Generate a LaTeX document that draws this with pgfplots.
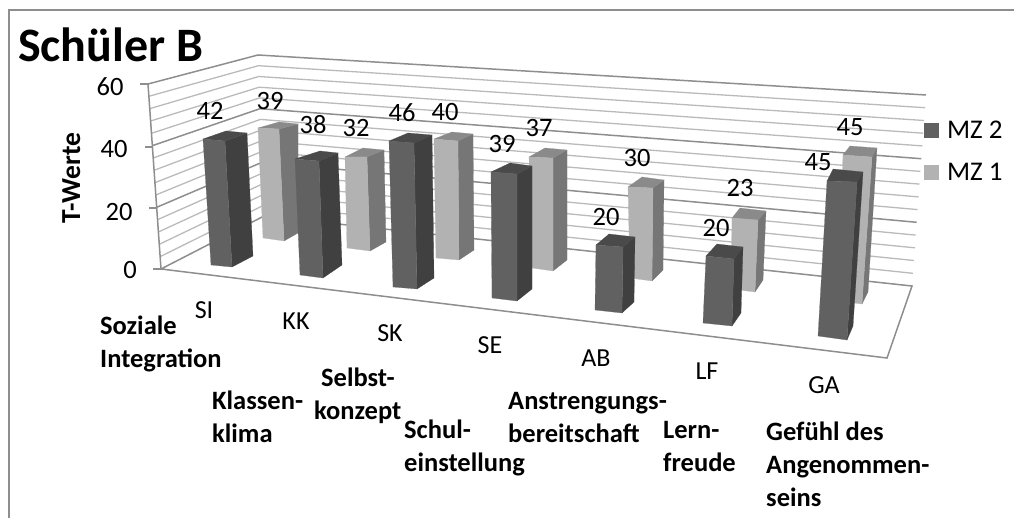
\documentclass[border=0pt]{standalone}
\usepackage{pgfplots}
\pgfplotsset{compat=1.18}
\usepackage{pgfplotstable}
\usepackage{fontspec}
\setmainfont{Carlito}
\definecolor{majorc}{HTML}{8E8E8E}
\definecolor{minorc}{HTML}{BABABA}
\definecolor{dfront}{HTML}{616161}
\definecolor{dside}{HTML}{404040}
\definecolor{dtop}{HTML}{4A4A4A}
\definecolor{lfront}{HTML}{B2B2B2}
\definecolor{lside}{HTML}{767676}
\definecolor{ltop}{HTML}{8A8A8A}
\newcommand{\poly}[2]{\addplot[forget plot, fill=#1, draw=#1, line width=0.2pt] coordinates {#2} -- cycle;}
% #1 front-left top, #2 front-right top, #3 back-right top, #4 back-left top,
% #5 front-right bottom, #6 front-left bottom, #7 back-right bottom
\newcommand{\darkbar}[7]{%
  \poly{dside}{(#2)(#3)(#7)(#5)}
  \poly{dtop}{(#1)(#2)(#3)(#4)}
  \poly{dfront}{(#1)(#2)(#5)(#6)}}
\newcommand{\lightbar}[7]{%
  \poly{lside}{(#2)(#3)(#7)(#5)}
  \poly{ltop}{(#1)(#2)(#3)(#4)}
  \poly{lfront}{(#1)(#2)(#5)(#6)}}
\newcommand{\gl}[1]{\addplot[forget plot, minorc, line width=1.3pt] coordinates {#1};}
\newcommand{\gm}[1]{\addplot[forget plot, majorc, line width=1.5pt] coordinates {#1};}
\pgfplotstableread{
x y val
210 111 42
313 125 38
402 113 46
502 144 39
606 217 20
716 228 20
818 162 45
}\mztwo
\pgfplotstableread{
x y val
270 101 39
356 128 32
445 112 40
539 128 37
637 158 30
740 188 23
850 127 45
}\mzone
\begin{document}
\begin{tikzpicture}
\path[use as bounding box] (0,0) rectangle (1014pt,518pt);
\begin{axis}[
  scale only axis, width=1014pt, height=518pt,
  xmin=0, xmax=1014, ymin=0, ymax=518, y dir=reverse,
  hide axis, clip=false,
  /pgf/number format/assume math mode=true,
  legend style={at={(924/1014,1-119/518)}, anchor=north west, draw=none, fill=none,
    font=\fontsize{27}{32}\selectfont, inner sep=0pt, outer sep=0pt,
    row sep=19pt, /tikz/every odd column/.style={column sep=6pt}},
  legend cell align=left,
  legend image code/.code={\fill[#1] (0pt,-7.5pt) rectangle (15pt,7.5pt);},
]
% chart frame
\addplot[forget plot, majorc, line width=1.5pt] coordinates {(9,518)(9,10)(1014,10)};
% grid on the walls
\gl{(160.1,256.7)(263.6,205.3)(912.9,273.3)}
\gl{(159.3,244.3)(263.2,194.5)(913.9,260.5)}
\gl{(158.4,232)(262.8,183.8)(914.8,247.8)}
\gl{(157.5,219.7)(262.4,173.1)(915.7,235.1)}
\gl{(155.8,195)(261.6,151.6)(917.6,209.6)}
\gl{(154.9,182.7)(261.2,140.9)(918.5,196.9)}
\gl{(154.1,170.3)(260.8,130.1)(919.5,184.1)}
\gl{(153.2,158)(260.4,119.4)(920.4,171.4)}
\gl{(151.5,133.3)(259.6,97.9)(922.3,145.9)}
\gl{(150.6,121)(259.2,87.2)(923.2,133.2)}
\gl{(149.7,108.7)(258.8,76.5)(924.1,120.5)}
\gl{(148.9,96.3)(258.4,65.7)(925.1,107.7)}
\gm{(156.7,207.3)(262,162.3)(916.7,222.3)}
\gm{(152.3,145.7)(260,108.7)(921.3,158.7)}
\gm{(148,84)(258,55)(926,95)}
% floor and value axis
\gm{(161,269)(264,216)(912,286)(887,358)(161,269)}
\gm{(148,84)(161,269)}
\gm{(140,84)(148,84)}
\gm{(145,147)(153,147)}
\gm{(149,208)(157,208)}
\gm{(153,269)(161,269)}
% MZ 1
\lightbar{258,128}{279,129}{298,124}{279,122}{284,241}{263,238}{298,233}
\lightbar{345,157}{367,157}{384,150}{363,148}{370,251}{347,248}{386,242}
\lightbar{434,139}{458,141}{473,134}{452,132}{459,260}{436,258}{474,250}
\lightbar{529,157}{553,158}{567,150}{545,148}{553,271}{532,268}{567,260}
\lightbar{628,187}{653,188}{664,180}{642,177}{652,281}{630,278}{663,270}
\lightbar{732,218}{758,220}{766,211}{740,208}{755,292}{731,289}{763,280}
\lightbar{843,155}{872,157}{877,148}{850,146}{862,304}{838,301}{868,292}
% MZ 2
\darkbar{203,139}{225,141}{247,133}{226,131}{232,267}{211,265}{253,256}
\darkbar{295,159}{319,161}{338,153}{320,151}{323,278}{300,275}{342,265}
\darkbar{389,141}{414,143}{432,135}{408,133}{417,289}{393,287}{434,278}
\darkbar{491,172}{517,174}{532,166}{510,163}{517,301}{492,298}{532,289}
\darkbar{596,245}{623,247}{635,237}{609,234}{622,313}{595,310}{634,302}
\darkbar{706,256}{734,259}{743,247}{717,244}{732,326}{703,323}{741,313}
\darkbar{827,181}{857,182}{863,172}{833,169}{847,340}{818,336}{853,326}
% data labels
\addplot[forget plot, only marks, mark=none, point meta=explicit, nodes near coords,
  every node near coord/.append style={anchor=center, inner sep=0pt, font=\fontsize{26.5}{30}\selectfont, text=black}]
  table[x=x, y=y, meta=val] {\mztwo};
\addplot[forget plot, only marks, mark=none, point meta=explicit, nodes near coords,
  every node near coord/.append style={anchor=center, inner sep=0pt, font=\fontsize{26.5}{30}\selectfont, text=black}]
  table[x=x, y=y, meta=val] {\mzone};
% legend
\addlegendimage{fill=dfront, draw=none}
\addlegendentry{MZ 2}
\addlegendimage{fill=lfront, draw=none}
\addlegendentry{MZ 1}
% title and axis title
\node[anchor=base west, inner sep=0pt, font=\bfseries\fontsize{48}{56}\selectfont] at (axis cs:18,62) {Schüler B};
\node[anchor=base, rotate=90, inner sep=0pt, font=\bfseries\fontsize{27.5}{30}\selectfont] at (axis cs:80,178) {T-Werte};
% value ticks
\foreach \xx/\yy/\tt in {110/87/60, 114/149/40, 119/212/20, 130/270/0}{
  \edef\tmp{\noexpand\node[inner sep=0pt, font=\noexpand\fontsize{26.5}{30}\noexpand\selectfont] at (axis cs:\xx,\yy) {\tt};}\tmp
}
% short category names
\foreach \xx/\yy/\tt in {204/310/SI, 296/321/KK, 390/333/SK, 490/345/SE, 596/358/AB, 707/371/LF, 824/385/GA}{
  \edef\tmp{\noexpand\node[inner sep=0pt, font=\noexpand\fontsize{26}{30}\noexpand\selectfont] at (axis cs:\xx,\yy) {\tt};}\tmp
}
% long category names: the anchor is the baseline of the last line
\tikzset{cat/.style={anchor=base west, inner sep=0pt, align=left, font=\bfseries\fontsize{26.5}{33}\selectfont}}
\node[cat] at (axis cs:100,367) {Soziale\\Integration};
\node[cat] at (axis cs:212,442) {Klassen-\\klima};
\node[cat] at (axis cs:314,419) {\hspace*{7pt}Selbst-\\konzept};
\node[cat] at (axis cs:404,471) {Schul-\\einstellung};
\node[cat] at (axis cs:508,442) {Anstrengungs-\\bereitschaft};
\node[cat] at (axis cs:663,471) {Lern-\\freude};
\node[cat] at (axis cs:766,506) {Gefühl des\\Angenommen-\\seins};
\end{axis}
\end{tikzpicture}
\end{document}
